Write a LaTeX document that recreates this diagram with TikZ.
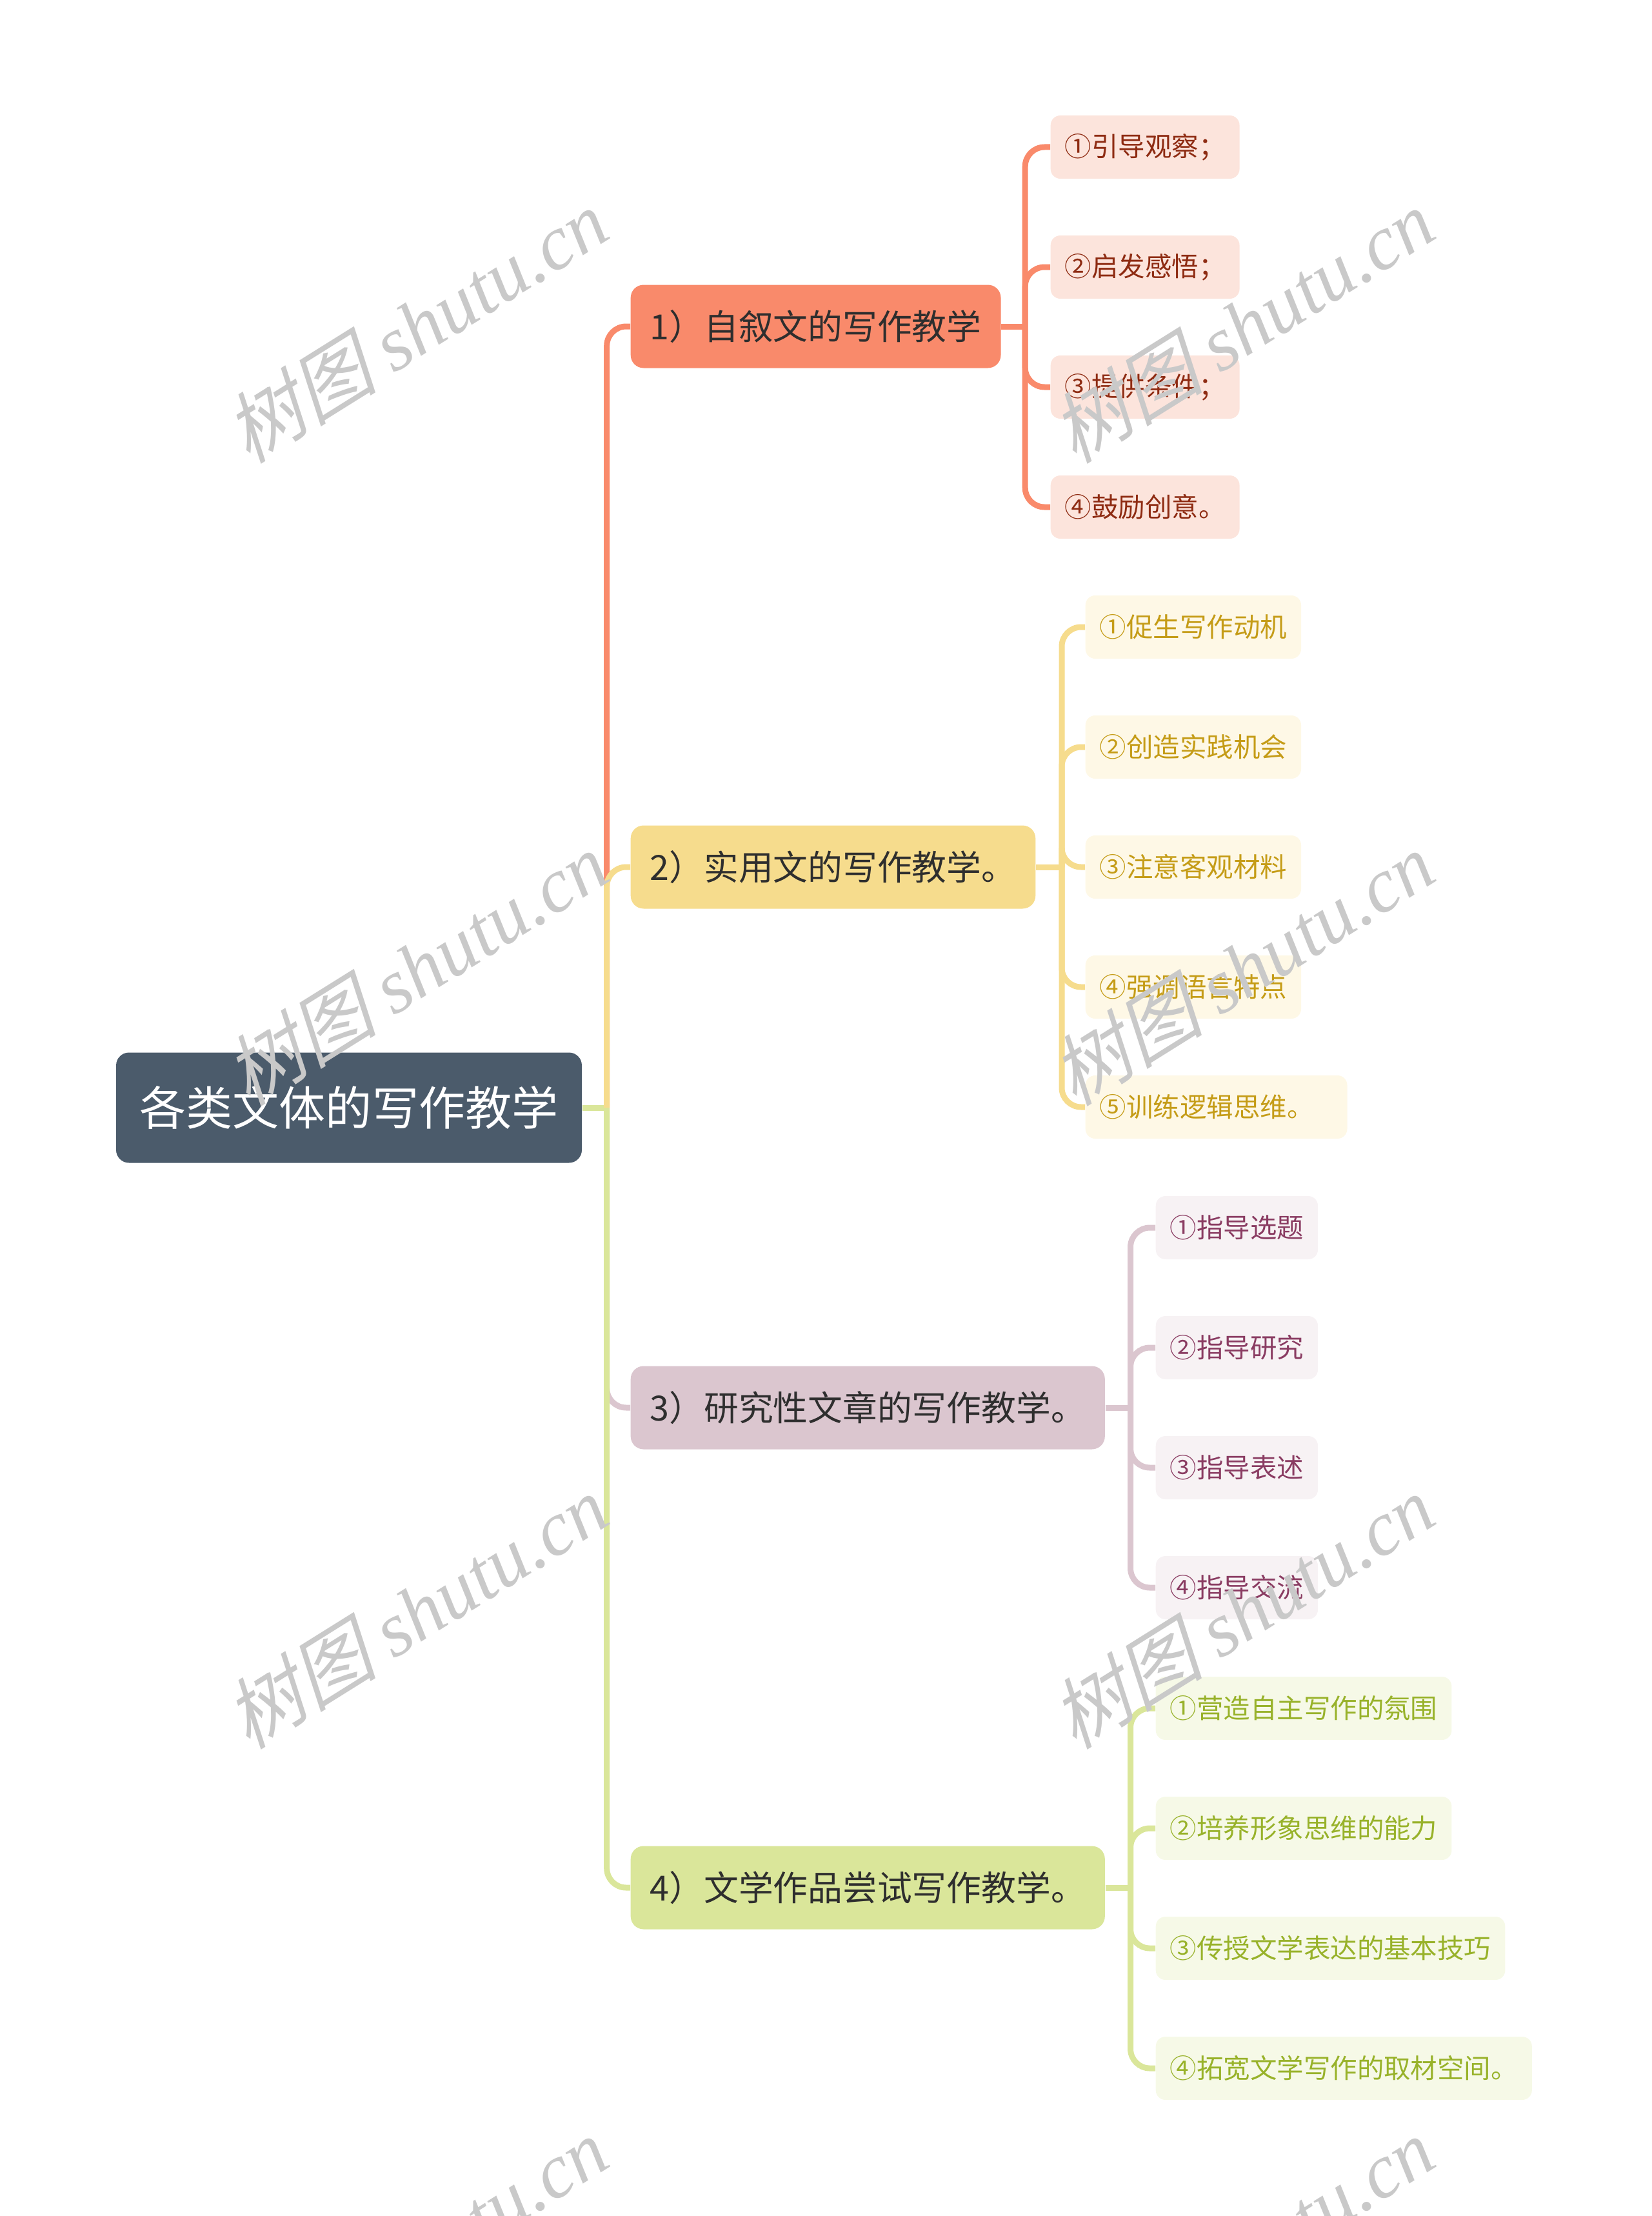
\documentclass[tikz,border=0pt]{standalone}
\usepackage{fontspec}
\setmainfont{Noto Sans CJK SC}
\newfontfamily\wmcjk[FakeSlant=0.25]{Noto Sans CJK SC}
\newfontfamily\wmlat{Liberation Serif}

\definecolor{rootc}{HTML}{4B5B6B}
\definecolor{textc}{HTML}{2E2E2E}
\definecolor{c1}{HTML}{F98A6B}
\definecolor{c1l}{HTML}{FCE4DC}
\definecolor{c1t}{HTML}{8E2B12}
\definecolor{c2}{HTML}{F6DC8D}
\definecolor{c2l}{HTML}{FEF8E6}
\definecolor{c2t}{HTML}{C59C17}
\definecolor{c3}{HTML}{DBC6CF}
\definecolor{c3l}{HTML}{F7F2F4}
\definecolor{c3t}{HTML}{8A3C62}
\definecolor{c4}{HTML}{DAE69A}
\definecolor{c4l}{HTML}{F6F9E7}
\definecolor{c4t}{HTML}{98B22A}

\begin{document}
\begin{tikzpicture}[
    line/.style={line width=0.09cm},
    root/.style={fill=rootc, text=white, rounded corners=0.2cm, minimum width=7.22cm,
                 minimum height=1.71cm, font=\fontsize{20.5pt}{24pt}\selectfont},
    branch/.style={anchor=west, rounded corners=0.2cm, inner xsep=0.3cm, minimum height=1.29cm,
                   text=textc, font=\fontsize{15.3pt}{18pt}\selectfont},
    leaf/.style={anchor=west, rounded corners=0.15cm, inner xsep=0.22cm, minimum height=0.98cm,
                 font=\fontsize{11.8pt}{14pt}\selectfont},
    wm/.style={rotate=32, text=black!21, font=\fontsize{34pt}{40pt}\selectfont}
]
    \useasboundingbox (0,0) rectangle (25.6,-34.35);

    \node[root] (R) at (5.41,-17.17) {各类文体的写作教学};

    \node[branch, fill=c1] (B1) at (9.77,-5.06) {1）自叙文的写作教学};
    \node[branch, fill=c2] (B2) at (9.77,-13.44) {2）实用文的写作教学。};
    \node[branch, fill=c3] (B3) at (9.77,-21.82) {3）研究性文章的写作教学。};
    \node[branch, fill=c4] (B4) at (9.77,-29.26) {4）文学作品尝试写作教学。};

    \foreach \t [count=\i] in {①引导观察；, ②启发感悟；, ③提供条件；, ④鼓励创意。}
        \node[leaf, fill=c1l, text=c1t] (L1\i) at (16.28,-0.42-1.86*\i) {\t};
    \foreach \t [count=\i] in {①促生写作动机, ②创造实践机会, ③注意客观材料, ④强调语言特点, ⑤训练逻辑思维。\kern0.3cm}
        \node[leaf, fill=c2l, text=c2t] (L2\i) at (16.82,-7.86-1.86*\i) {\t};
    \foreach \t [count=\i] in {①指导选题, ②指导研究, ③指导表述, ④指导交流}
        \node[leaf, fill=c3l, text=c3t] (L3\i) at (17.91,-17.17-1.86*\i) {\t};
    \foreach \t [count=\i] in {①营造自主写作的氛围, ②培养形象思维的能力, ③传授文学表达的基本技巧, ④拓宽文学写作的取材空间。}
        \node[leaf, fill=c4l, text=c4t] (L4\i) at (17.91,-24.62-1.86*\i) {\t};

    % root to branches
    \draw[line, c4] (R.east) -- ++(0.38,0) coordinate (J);
    \draw[line, c1, rounded corners=0.3cm] (J) |- (B1.west);
    \draw[line, c2, rounded corners=0.3cm] (J) |- (B2.west);
    \draw[line, c3, rounded corners=0.3cm] (J) |- (B3.west);
    \draw[line, c4, rounded corners=0.3cm] (J) |- (B4.west);

    % branches to leaves
    \draw[line, c1] (B1.east) -- ++(0.37,0) coordinate (J1);
    \foreach \i in {1,...,4} \draw[line, c1, rounded corners=0.3cm] (J1) |- (L1\i.west);
    \draw[line, c2] (B2.east) -- ++(0.40,0) coordinate (J2);
    \foreach \i in {1,...,5} \draw[line, c2, rounded corners=0.3cm] (J2) |- (L2\i.west);
    \draw[line, c3] (B3.east) -- ++(0.39,0) coordinate (J3);
    \foreach \i in {1,...,4} \draw[line, c3, rounded corners=0.3cm] (J3) |- (L3\i.west);
    \draw[line, c4] (B4.east) -- ++(0.39,0) coordinate (J4);
    \foreach \i in {1,...,4} \draw[line, c4, rounded corners=0.3cm] (J4) |- (L4\i.west);

    % watermark
    \foreach \x/\y [count=\i] in {6.44/-5.05, 19.25/-5.05, 6.44/-15.01, 19.25/-15.01,
                                  6.44/-24.98, 19.25/-24.98, 6.44/-34.94, 19.25/-34.94}
        \node[wm] (W\i) at (\x,\y) {{\wmcjk 树图} {\wmlat\itshape shutu.cn}};
\end{tikzpicture}
\end{document}
